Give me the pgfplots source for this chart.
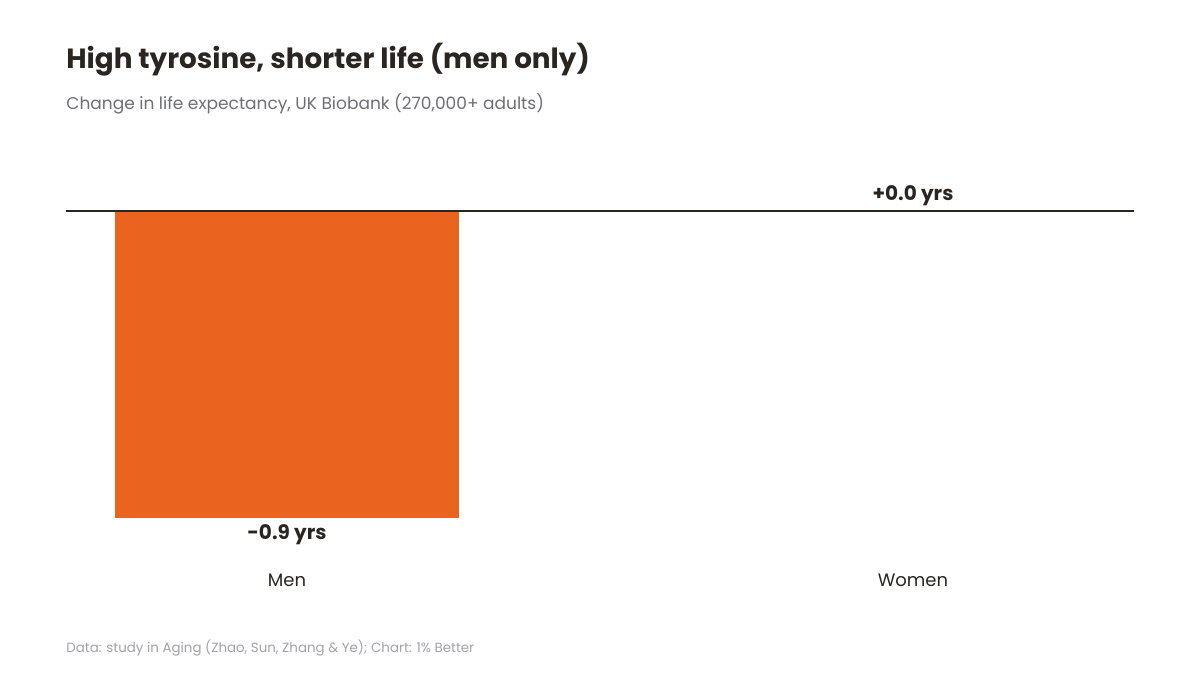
\documentclass[border=0pt]{standalone}
\usepackage{pgfplots}
\pgfplotsset{compat=1.18}
\usepackage{fontspec}
\setmainfont{Poppins}
\definecolor{barorange}{HTML}{EA6420}
\definecolor{titlecol}{HTML}{2A2521}
\definecolor{subcol}{HTML}{6E6E76}
\definecolor{footcol}{HTML}{A2A2A8}
\begin{document}
\begin{tikzpicture}
% canvas: 1200x675 px at 0.5pt per px
\path[use as bounding box] (0pt,0pt) rectangle (600pt,337.5pt);
\node[anchor=base west, font=\fontsize{13.9pt}{16pt}\selectfont\bfseries, text=titlecol, inner sep=0] at (33pt,303pt) {High tyrosine, shorter life (men only)};
\node[anchor=base west, font=\fontsize{8.5pt}{10pt}\selectfont, text=subcol, inner sep=0] at (33pt,282.5pt) {Change in life expectancy, UK Biobank (270,000+ adults)};
\node[anchor=base west, font=\fontsize{6.7pt}{8pt}\selectfont, text=footcol, inner sep=0] at (33pt,11.5pt) {Data: study in Aging (Zhao, Sun, Zhang \& Ye); Chart: 1\% Better};
\begin{axis}[
    at={(33pt,78.5pt)}, anchor=south west,
    scale only axis,
    width=534pt, height=153.5pt,
    xmin=-0.353, xmax=1.353,
    ymin=-0.9, ymax=0,
    axis lines=none,
    clip=false,
    point meta=explicit symbolic,
    nodes near coords,
    every node near coord/.append style={font=\fontsize{10pt}{12pt}\selectfont\bfseries, text=titlecol},
]
% Men
\addplot[ybar, bar width=0.55, bar shift=0pt, fill=barorange, draw=none,
    every node near coord/.append style={anchor=north, yshift=0.5pt}] coordinates {
    (0,-0.9) [-0.9 yrs]
};
% Women
\addplot[ybar, bar width=0.55, bar shift=0pt, fill=barorange, draw=none,
    every node near coord/.append style={anchor=south, yshift=-1pt}] coordinates {
    (1,0) [+0.0 yrs]
};
\draw[titlecol, line width=0.6pt] (axis cs:-0.353,0) -- (axis cs:1.353,0);
\node[font=\fontsize{9pt}{11pt}\selectfont, text=titlecol] at (axis cs:0,-0.9) [yshift=-31pt] {Men};
\node[font=\fontsize{9pt}{11pt}\selectfont, text=titlecol] at (axis cs:1,-0.9) [yshift=-31pt] {Women};
\end{axis}
\end{tikzpicture}
\end{document}
